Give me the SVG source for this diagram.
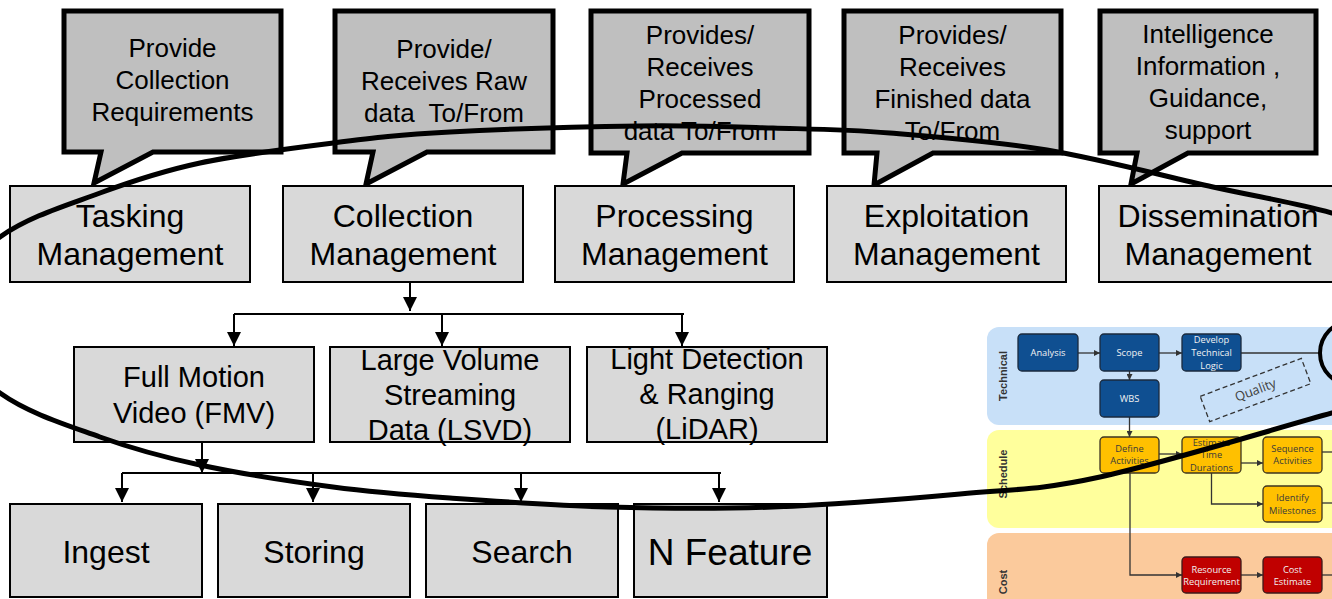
<svg xmlns="http://www.w3.org/2000/svg" width="1332" height="599" viewBox="0 0 1332 599">
  <style>
    .callout { fill: #bfbfbf; stroke: #000; stroke-width: 5; stroke-linejoin: miter; }
    .box { fill: #d9d9d9; stroke: #000; stroke-width: 2; }
    .t { font-family: "Liberation Sans", Arial, sans-serif; fill: #000; text-anchor: middle; }
    .c26 { font-size: 26px; }
    .c32 { font-size: 32px; }
    .c29 { font-size: 29px; }
    .conn { fill: none; stroke: #000; stroke-width: 2; }
    .loop { fill: none; stroke: #000; stroke-width: 5; }
    .panel-label { font-family: "Liberation Sans", Arial, sans-serif; font-size: 11px; font-weight: bold; fill: #333; text-anchor: middle; }
    .mini { font-family: "Open Sans", "Liberation Sans", sans-serif; font-size: 9.3px; text-anchor: middle; }
    .blue { fill: #0f4f91; stroke: #1b2a3d; stroke-width: 1.3; }
    .yellow { fill: #ffc000; stroke: #3d3520; stroke-width: 1.3; }
    .red { fill: #c00000; stroke: #3d1a1a; stroke-width: 1.3; }
    .wtxt { fill: #f2f2f2; }
    .dtxt { fill: #3a3a3a; }
    .flow { fill: none; stroke: #333; stroke-width: 1.3; }
  </style>
  <defs>
    <marker id="arrow" markerUnits="userSpaceOnUse" markerWidth="14" markerHeight="14" refX="14" refY="7" orient="auto">
      <path d="M0,0 L14,7 L0,14 Z" fill="#000"/>
    </marker>
    <marker id="miniArrow" markerUnits="userSpaceOnUse" markerWidth="6" markerHeight="6" refX="6" refY="3" orient="auto">
      <path d="M0,0 L6,3 L0,6 Z" fill="#333"/>
    </marker>
  </defs>

  <!-- Process flow panel (technical / schedule / cost) -->
  <g id="process-flow">
    <rect x="987" y="327" width="380" height="98" rx="12" fill="#c8e0f8"/>
    <rect x="987" y="430" width="380" height="98" rx="12" fill="#ffff9c"/>
    <rect x="987" y="533" width="380" height="90" rx="12" fill="#fbca9c"/>
    <text class="panel-label" transform="translate(1007,376) rotate(-90)">Technical</text>
    <text class="panel-label" transform="translate(1007,474) rotate(-90)">Schedule</text>
    <text class="panel-label" transform="translate(1007,582) rotate(-90)">Cost</text>

    <g id="flow-links">
      <path class="flow" d="M1078,353 H1100" marker-end="url(#miniArrow)"/>
      <path class="flow" d="M1159,353 H1182" marker-end="url(#miniArrow)"/>
      <path class="flow" d="M1241,353 H1322"/>
      <path class="flow" d="M1129.5,371 V380" marker-end="url(#miniArrow)"/>
      <path class="flow" d="M1129.5,417 V437" marker-end="url(#miniArrow)"/>
      <path class="flow" d="M1159,454 H1182" marker-end="url(#miniArrow)"/>
      <path class="flow" d="M1241,463 H1263" marker-end="url(#miniArrow)"/>
      <path class="flow" d="M1211.5,473 V504 H1263" marker-end="url(#miniArrow)"/>
      <path class="flow" d="M1322,452 H1340"/>
      <path class="flow" d="M1322,503 H1340"/>
      <path class="flow" d="M1130,473 V575 H1182" marker-end="url(#miniArrow)"/>
      <path class="flow" d="M1241,575 H1263" marker-end="url(#miniArrow)"/>
      <path class="flow" d="M1322,575 H1340"/>
    </g>

    <g id="pf-analysis">
      <rect class="blue" x="1018" y="334" width="60" height="37" rx="4"/>
      <text class="mini wtxt" x="1048" y="356">Analysis</text>
    </g>
    <g id="pf-scope">
      <rect class="blue" x="1100" y="334" width="59" height="37" rx="4"/>
      <text class="mini wtxt" x="1129.5" y="356">Scope</text>
    </g>
    <g id="pf-logic">
      <rect class="blue" x="1182" y="334" width="59" height="37" rx="4"/>
      <text class="mini wtxt" x="1211.5" y="343">Develop</text>
      <text class="mini wtxt" x="1211.5" y="356">Technical</text>
      <text class="mini wtxt" x="1211.5" y="368.5">Logic</text>
    </g>
    <g id="pf-wbs">
      <rect class="blue" x="1100" y="380" width="59" height="37" rx="4"/>
      <text class="mini wtxt" x="1129.5" y="401.5">WBS</text>
    </g>
    <g id="pf-quality">
      <rect x="1201.5" y="376.5" width="108" height="27" fill="none" stroke="#333" stroke-width="1.3" stroke-dasharray="5,3" transform="rotate(-20.6 1255.5 390)"/>
      <text x="1255.5" y="394.5" font-family="'Open Sans', 'Liberation Sans', sans-serif" font-size="13" fill="#404040" text-anchor="middle" transform="rotate(-20.6 1255.5 390)">Quality</text>
    </g>
    <g id="pf-define">
      <rect class="yellow" x="1100" y="437" width="59" height="36" rx="4"/>
      <text class="mini dtxt" x="1129.5" y="451.5">Define</text>
      <text class="mini dtxt" x="1129.5" y="464">Activities</text>
    </g>
    <g id="pf-estimate">
      <rect class="yellow" x="1182" y="437" width="59" height="36" rx="4"/>
      <text class="mini dtxt" x="1211.5" y="445.5">Estimate</text>
      <text class="mini dtxt" x="1211.5" y="458">Time</text>
      <text class="mini dtxt" x="1211.5" y="470.5">Durations</text>
    </g>
    <g id="pf-sequence">
      <rect class="yellow" x="1263" y="437" width="59" height="36" rx="4"/>
      <text class="mini dtxt" x="1292.5" y="451.5">Sequence</text>
      <text class="mini dtxt" x="1292.5" y="464">Activities</text>
    </g>
    <g id="pf-milestones">
      <rect class="yellow" x="1263" y="486" width="59" height="36" rx="4"/>
      <text class="mini dtxt" x="1292.5" y="501">Identify</text>
      <text class="mini dtxt" x="1292.5" y="513.5">Milestones</text>
    </g>
    <g id="pf-resource">
      <rect class="red" x="1182" y="557" width="59" height="36" rx="4"/>
      <text class="mini wtxt" x="1211.5" y="572.5">Resource</text>
      <text class="mini wtxt" x="1211.5" y="585">Requirement</text>
    </g>
    <g id="pf-cost">
      <rect class="red" x="1263" y="557" width="59" height="36" rx="4"/>
      <text class="mini wtxt" x="1292.5" y="572.5">Cost</text>
      <text class="mini wtxt" x="1292.5" y="585">Estimate</text>
    </g>
    <circle cx="1352" cy="353" r="32" fill="none" stroke="#000" stroke-width="4"/>
  </g>

  <!-- Speech-bubble callouts -->
  <g id="callout-tasking">
    <path class="callout" d="M64,11 H281 V152 H153 L94,183 L101,152 H64 Z"/>
    <text class="t c26" x="172.5" y="57">Provide</text>
    <text class="t c26" x="172.5" y="89">Collection</text>
    <text class="t c26" x="172.5" y="121">Requirements</text>
  </g>
  <g id="callout-collection">
    <path class="callout" d="M335,11 H553 V152 H427 L366,184 L373,152 H335 Z"/>
    <text class="t c26" x="444" y="58">Provide/</text>
    <text class="t c26" x="444" y="90">Receives Raw</text>
    <text class="t c26" x="444" y="122" xml:space="preserve">data  To/From</text>
  </g>
  <g id="callout-processing">
    <path class="callout" d="M591,11 H809 V153 H682 L623,184 L627,153 H591 Z"/>
    <text class="t c26" x="700" y="44">Provides/</text>
    <text class="t c26" x="700" y="76">Receives</text>
    <text class="t c26" x="700" y="108">Processed</text>
    <text class="t c26" x="700" y="140">data To/From</text>
  </g>
  <g id="callout-exploitation">
    <path class="callout" d="M844,11 H1061 V153 H933 L874,185 L877,153 H844 Z"/>
    <text class="t c26" x="952.5" y="44">Provides/</text>
    <text class="t c26" x="952.5" y="76">Receives</text>
    <text class="t c26" x="952.5" y="108">Finished data</text>
    <text class="t c26" x="952.5" y="140">To/From</text>
  </g>
  <g id="callout-dissemination">
    <path class="callout" d="M1100,11 H1316 V153 H1188 L1131,184 L1137,153 H1100 Z"/>
    <text class="t c26" x="1208" y="43">Intelligence</text>
    <text class="t c26" x="1208" y="75">Information ,</text>
    <text class="t c26" x="1208" y="107">Guidance,</text>
    <text class="t c26" x="1208" y="139">support</text>
  </g>

  <!-- Management functions -->
  <g id="tasking-mgmt">
    <rect class="box" x="10" y="186" width="240" height="96"/>
    <text class="t c32" x="130" y="227">Tasking</text>
    <text class="t c32" x="130" y="265">Management</text>
  </g>
  <g id="collection-mgmt">
    <rect class="box" x="283" y="186" width="240" height="96"/>
    <text class="t c32" x="403" y="227">Collection</text>
    <text class="t c32" x="403" y="265">Management</text>
  </g>
  <g id="processing-mgmt">
    <rect class="box" x="555" y="186" width="239" height="96"/>
    <text class="t c32" x="674.5" y="227">Processing</text>
    <text class="t c32" x="674.5" y="265">Management</text>
  </g>
  <g id="exploitation-mgmt">
    <rect class="box" x="827" y="186" width="239" height="96"/>
    <text class="t c32" x="946.5" y="227">Exploitation</text>
    <text class="t c32" x="946.5" y="265">Management</text>
  </g>
  <g id="dissemination-mgmt">
    <rect class="box" x="1099" y="186" width="241" height="96"/>
    <text class="t c32" x="1218" y="227">Dissemination</text>
    <text class="t c32" x="1218" y="265">Management</text>
  </g>

  <!-- Collection sources -->
  <g id="fmv">
    <rect class="box" x="74" y="347" width="240" height="95"/>
    <text class="t c29" x="194" y="387">Full Motion</text>
    <text class="t c29" x="194" y="423">Video (FMV)</text>
  </g>
  <g id="lsvd">
    <rect class="box" x="330" y="347" width="240" height="95"/>
    <text class="t c29" x="450" y="370">Large Volume</text>
    <text class="t c29" x="450" y="405">Streaming</text>
    <text class="t c29" x="450" y="440">Data (LSVD)</text>
  </g>
  <g id="lidar">
    <rect class="box" x="587" y="347" width="240" height="95"/>
    <text class="t c29" x="707" y="369">Light Detection</text>
    <text class="t c29" x="707" y="404">&amp; Ranging</text>
    <text class="t c29" x="707" y="439">(LiDAR)</text>
  </g>

  <!-- FMV functions -->
  <g id="ingest">
    <rect class="box" x="10" y="504" width="192" height="93"/>
    <text class="t c32" x="106" y="563">Ingest</text>
  </g>
  <g id="storing">
    <rect class="box" x="218" y="504" width="192" height="93"/>
    <text class="t c32" x="314" y="563">Storing</text>
  </g>
  <g id="search">
    <rect class="box" x="426" y="504" width="192" height="93"/>
    <text class="t c32" x="522" y="563">Search</text>
  </g>
  <g id="n-feature">
    <rect class="box" x="634" y="504" width="193" height="93"/>
    <text class="t" x="730" y="565" font-size="37">N Feature</text>
  </g>

  <!-- Connectors -->
  <g id="connectors">
    <path class="conn" d="M410,283 V311" marker-end="url(#arrow)"/>
    <path class="conn" d="M234,314 H684"/>
    <path class="conn" d="M234,314 V346" marker-end="url(#arrow)"/>
    <path class="conn" d="M442,314 V346" marker-end="url(#arrow)"/>
    <path class="conn" d="M682,314 V346" marker-end="url(#arrow)"/>
    <path class="conn" d="M202,443 V473" marker-end="url(#arrow)"/>
    <path class="conn" d="M122,473 H721"/>
    <path class="conn" d="M122,473 V502" marker-end="url(#arrow)"/>
    <path class="conn" d="M313,473 V502" marker-end="url(#arrow)"/>
    <path class="conn" d="M521,473 V502" marker-end="url(#arrow)"/>
    <path class="conn" d="M719,473 V502" marker-end="url(#arrow)"/>
  </g>

  <!-- Enclosing loop drawn over the whole chain -->
  <path id="enclosure" class="loop" d="M-70,315 C-70,289 -28.3,257.3 0,237 C28.3,216.7 66.7,205.3 100,193 C133.3,180.7 161.2,171.3 200,163 C238.8,154.7 291.3,148.2 333,143 C374.7,137.8 398.8,134.8 450,132 C501.2,129.2 586.2,126.7 640,126 C693.8,125.3 731.3,126.8 773,128 C814.7,129.2 844.3,129.3 890,133 C935.7,136.7 993.2,141 1047,150 C1100.8,159 1165.5,176.5 1213,187 C1260.5,197.5 1292,202 1332,213 C1372,224 1480,270 1480,318 C1480,366 1380,400 1332,413 C1284,426 1162,463.5 1100,477 C1038,490.5 1014.5,489 960,494 C905.5,499 831.8,504.8 773,507 C714.2,509.2 660.8,508.5 607,507 C553.2,505.5 495.7,501.3 450,498 C404.3,494.7 374.7,492.5 333,487 C291.3,481.5 238.8,473.3 200,465 C161.2,456.7 133.3,449 100,437 C66.7,425 28.3,413.3 0,393 C-28.3,372.7 -70,341 -70,315 Z"/>
</svg>
